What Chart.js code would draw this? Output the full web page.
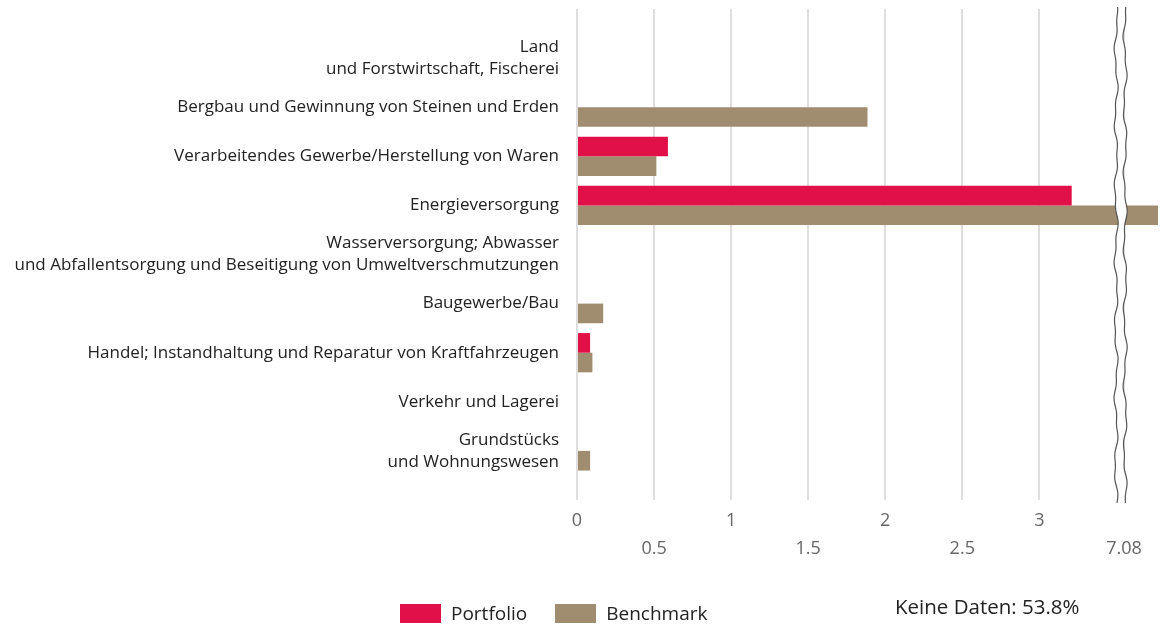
<!DOCTYPE html>
<html>
<head>
<meta charset="utf-8">
<script src="https://cdn.jsdelivr.net/npm/chart.js@4.4.1/dist/chart.umd.min.js"></script>
<style>
  html, body { margin: 0; padding: 0; background: #fff; }
  #wrap { position: relative; width: 1160px; height: 626px; font-family: "Open Sans", sans-serif; color: #222; }
  #legend { position: absolute; left: 400px; top: 600px; display: flex; align-items: center; font-size: 19px; }
  #legend .item { display: flex; align-items: center; margin-right: 28px; }
  #legend .box { width: 41px; height: 19px; margin-right: 10px; }
  #note { position: absolute; left: 895px; top: 592px; font-size: 20.5px; }
</style>
</head>
<body>
<div id="wrap">
  <canvas id="chart" width="1160" height="626"></canvas>
  <div id="legend"></div>
  <div id="note"></div>
</div>
<script>
const categories = [
  ["Land", "und Forstwirtschaft, Fischerei"],
  "Bergbau und Gewinnung von Steinen und Erden",
  "Verarbeitendes Gewerbe/Herstellung von Waren",
  "Energieversorgung",
  ["Wasserversorgung; Abwasser", "und Abfallentsorgung und Beseitigung von Umweltverschmutzungen"],
  "Baugewerbe/Bau",
  "Handel; Instandhaltung und Reparatur von Kraftfahrzeugen",
  "Verkehr und Lagerei",
  ["Grundstücks", "und Wohnungswesen"]
];
const portfolio = [null, null, 0.59, 3.21, null, null, 0.085, null, null];
const benchmark = [null, 1.885, 0.515, 7.08, null, 0.17, 0.10, null, 0.085];
const tickValues = [0, 0.5, 1, 1.5, 2, 2.5, 3];
const breakValue = 3.55;   // where the axis is cut
const axisMax = 3.77;
const noDataShare = "53.8%";

const colors = { portfolio: "#e21048", benchmark: "#a08d70" };

// blank slots above and below so the grid runs past the first/last category
const labels = [""].concat(categories, [""]);
const pad = (arr) => [null].concat(arr, [null]);

const overValue = Math.max(...portfolio.concat(benchmark).filter((v) => v != null && v > breakValue));

const axisBreak = {
  id: "axisBreak",
  afterDatasetsDraw(chart) {
    const { ctx, chartArea } = chart;
    const xs = chart.scales.x.getPixelForValue(breakValue);
    const x1 = xs - 8, x2 = xs + 1;
    const top = chartArea.top - 2, bottom = chartArea.bottom + 3;
    const wave = (y, p) => 1.4 * Math.sin(y / 11 + p) + 0.7 * Math.sin(y / 4.3 + p * 2);
    ctx.save();
    ctx.beginPath();
    for (let y = top; y <= bottom; y += 2) ctx.lineTo(x1 + wave(y, 0), y);
    for (let y = bottom; y >= top; y -= 2) ctx.lineTo(x2 + wave(y, 1.3), y);
    ctx.closePath();
    ctx.fillStyle = "#fff";
    ctx.fill();
    ctx.strokeStyle = "#555";
    ctx.lineWidth = 1.2;
    [[x1, 0], [x2, 1.3]].forEach(([x, p]) => {
      ctx.beginPath();
      for (let y = top; y <= bottom; y += 2) ctx.lineTo(x + wave(y, p), y);
      ctx.stroke();
    });
    ctx.restore();
  }
};

const chart = new Chart(document.getElementById("chart"), {
  type: "bar",
  data: {
    labels,
    datasets: [
      { label: "Portfolio", data: pad(portfolio), backgroundColor: colors.portfolio },
      { label: "Benchmark", data: pad(benchmark), backgroundColor: colors.benchmark }
    ]
  },
  options: {
    indexAxis: "y",
    responsive: false,
    animation: false,
    categoryPercentage: 0.8,
    barPercentage: 1.0,
    layout: { padding: { top: 9, right: 2, left: 0, bottom: 0 } },
    plugins: { legend: { display: false }, tooltip: { enabled: false } },
    scales: {
      x: {
        type: "linear",
        min: 0,
        max: axisMax,
        afterBuildTicks: (s) => { s.ticks = tickValues.concat([breakValue]).map((v) => ({ value: v })); },
        afterFit: (s) => { s.height = 126; s.paddingLeft = 0; s.paddingRight = 0; },
        grid: { color: "#dedede", lineWidth: 2, drawTicks: false },
        border: { display: false },
        ticks: {
          padding: 7,
          color: "#666",
          font: { family: "Open Sans", size: 18, lineHeight: 1.55 },
          maxRotation: 0,
          autoSkip: false,
          callback: function (v, i) {
            const txt = v === breakValue ? String(overValue) : String(v);
            return i % 2 === 0 ? [txt] : ["", txt];
          }
        }
      },
      y: {
        type: "category",
        offset: false,
        afterFit: (s) => { s.width = 577; s.paddingTop = 0; s.paddingBottom = 0; },
        grid: { display: false, drawTicks: false },
        border: { display: false },
        ticks: {
          padding: 18,
          color: "#222",
          autoSkip: false,
          font: { family: "Open Sans", size: 17, lineHeight: 1.3 }
        }
      }
    }
  },
  plugins: [axisBreak]
});

// legend and note
const legend = document.getElementById("legend");
chart.data.datasets.forEach((d) => {
  const item = document.createElement("div");
  item.className = "item";
  item.innerHTML = '<span class="box" style="background:' + d.backgroundColor + '"></span><span>' + d.label + "</span>";
  legend.appendChild(item);
});
document.getElementById("note").textContent = "Keine Daten: " + noDataShare;
</script>
</body>
</html>
